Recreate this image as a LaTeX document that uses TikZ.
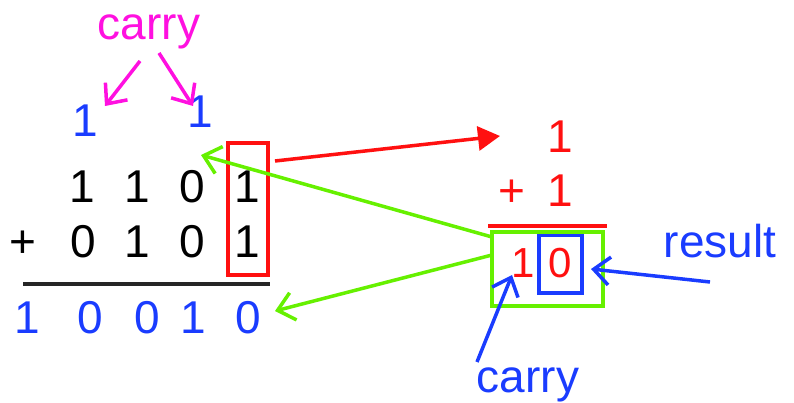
\documentclass[tikz,border=0pt]{standalone}
\usepackage{fontspec}
\setmainfont{Liberation Sans}
\usetikzlibrary{arrows.meta}
\definecolor{cmag}{HTML}{FF10E0}
\definecolor{cblue}{HTML}{1A3CFF}
\definecolor{cgreen}{HTML}{66F000}
\definecolor{cred}{HTML}{FF1010}
\tikzset{
  dig/.style={inner sep=0pt, anchor=base, font=\fontsize{46}{46}\selectfont},
  smalldig/.style={inner sep=0pt, anchor=base, font=\fontsize{42}{42}\selectfont},
  barb/.style={-{Straight Barb[length=16pt,width=28pt,line width=3.5pt]}, line width=3.5pt},
  frame/.style={line width=3.5pt},
}
\begin{document}
\begin{tikzpicture}[x=1pt,y=-1pt]
\useasboundingbox (0,0) rectangle (794,403);

% carried digits and their label
\node[dig, text=cmag] (clabel) at (149,40) {carry};
\node[dig, text=cblue] (c1) at (85,137) {1};
\node[dig, text=cblue] (c2) at (200,128) {1};
\coordinate (c1t) at (105,106);
\coordinate (c2t) at (193,106);
\coordinate (m1s) at (140,61);
\coordinate (m2s) at (159,53);
\draw[barb, cmag] (m1s) -- (c1t);
\draw[barb, cmag] (m2s) -- (c2t);

% first operand
\node[dig] (a4) at (82,203) {1};
\node[dig] (a3) at (137,203) {1};
\node[dig] (a2) at (192,203) {0};
\node[dig] (a1) at (247,203) {1};
% second operand
\node[dig] (plus) at (23,257) {+};
\node[dig] (b4) at (83,257) {0};
\node[dig] (b3) at (137,257) {1};
\node[dig] (b2) at (192,257) {0};
\node[dig] (b1) at (247,257) {1};
% sum bar
\coordinate (barL) at (23,284);
\coordinate (barR) at (270,284);
\draw[line width=4pt, black!85] (barL) -- (barR);
% sum
\node[dig, text=cblue] (s5) at (27,333) {1};
\node[dig, text=cblue] (s4) at (90,333) {0};
\node[dig, text=cblue] (s3) at (147,333) {0};
\node[dig, text=cblue] (s2) at (193,333) {1};
\node[dig, text=cblue] (s1) at (248,333) {0};

% highlighted rightmost column
\node[frame, draw=cred, minimum width=40pt, minimum height=132pt, inner sep=0pt] (col) at (248,209) {};

% single column worked out on the right
\node[dig, text=cred] (r1) at (560,153) {1};
\node[dig, text=cred] (rplus) at (512,207) {+};
\node[dig, text=cred] (r2) at (560,207) {1};
\coordinate (rbarL) at (488,226);
\coordinate (rbarR) at (607,226);
\draw[line width=3.5pt, cred] (rbarL) -- (rbarR);
\node[smalldig, text=cred] (rc) at (523,277) {1};
\node[smalldig, text=cred] (rs) at (560,277) {0};
\node[frame, draw=cblue, minimum width=43pt, minimum height=58pt, inner sep=0pt] (resbox) at (560.5,264) {};
\node[frame, draw=cgreen, minimum width=111pt, minimum height=74pt, inner sep=0pt] (outbox) at (547.5,269) {};

% red arrow from the column to the worked example
\coordinate (redS) at (275,161);
\coordinate (redT) at (500,136);
\draw[line width=3.5pt, cred, -{Triangle[length=22pt,width=24pt]}] (redS) -- (redT);

% green arrows back to the carry and the sum
\coordinate (gS1) at (492,237);
\coordinate (gT1) at (201,155);
\coordinate (gS2) at (492,255);
\coordinate (gT2) at (275,311);
\draw[barb, cgreen] (gS1) -- (gT1);
\draw[barb, cgreen] (gS2) -- (gT2);

% labels
\node[dig, text=cblue] (reslabel) at (720,257) {result};
\coordinate (resS) at (710,282);
\coordinate (resT) at (591,269);
\draw[barb, cblue] (resS) -- (resT);
\node[dig, text=cblue] (carlabel) at (528,392) {carry};
\coordinate (carS) at (477,362);
\coordinate (carT) at (512,275);
\draw[barb, cblue] (carS) -- (carT);
\end{tikzpicture}
\end{document}
